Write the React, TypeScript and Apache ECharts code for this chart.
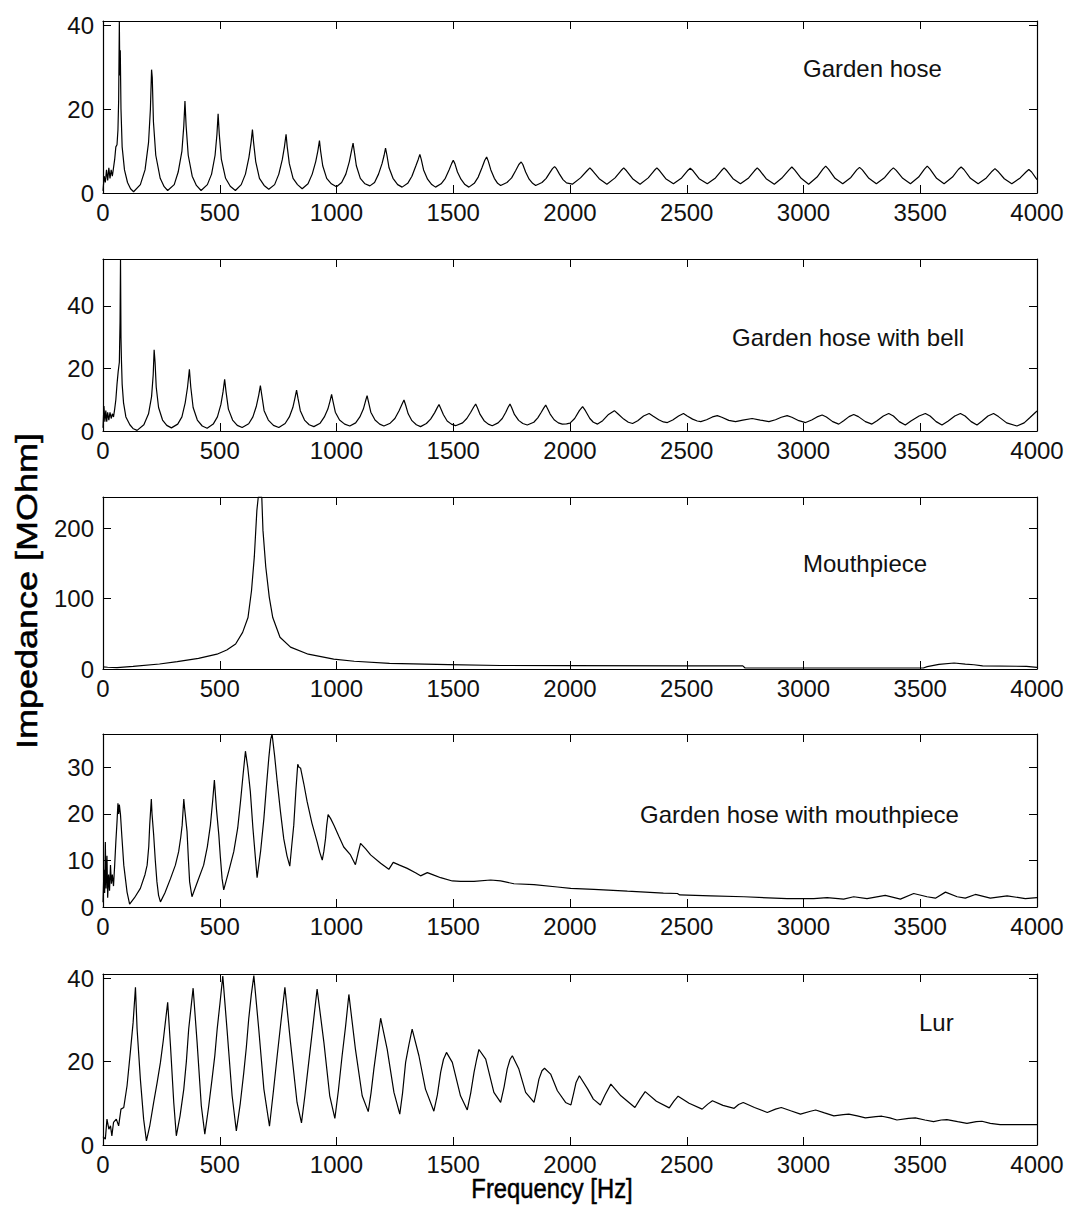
import React, { useEffect, useRef } from "react";
import * as echarts from "echarts";

// ---- Data (frequency in Hz, impedance in MOhm) ----
const panelTitles = [
  "Garden hose",
  "Garden hose with bell",
  "Mouthpiece",
  "Garden hose with mouthpiece",
  "Lur",
];
const yMaxes = [41, 55, 244, 37.2, 41];
const yIntervals = [20, 20, 100, 10, 20];
const freqMin = 0;
const freqMax = 4000;
const freqInterval = 500;

const gardenHose: number[][] = [
  [0, 0.5], [5, 4], [10, 2.5], [15, 5.5], [20, 3], [25, 6], [30, 3.5], [35, 5.5], [40, 4], [45, 6], [50, 8], [55, 11], [60, 11.5], [64, 15], [67, 22], [70, 41], [72, 28], [74, 34], [77, 20], [82, 11], [92, 5.5], [105, 2.5], [118, 1], [131, 0.3],
  [160, 2], [180, 5.5], [195, 12], [203, 20], [208, 29.4], [211, 27.5], [216, 17], [226, 9], [245, 3.5], [262, 1.5], [277, 0.6],
  [305, 2], [322, 5], [338, 10], [346, 16], [351, 21.9], [356, 16], [365, 9], [382, 4], [400, 1.8], [420, 0.6],
  [447, 2], [465, 4.5], [480, 9], [488, 14], [493, 18.9], [498, 14], [507, 8], [525, 3.5], [545, 1.6], [567, 0.6],
  [592, 2], [610, 4.5], [625, 8.5], [634, 12], [640, 15.1], [645, 12], [654, 7.5], [670, 3.5], [690, 1.8], [710, 0.9],
  [735, 2], [753, 4.5], [768, 8], [777, 11], [784, 14], [789, 11], [798, 7], [814, 3.5], [833, 2], [853, 1],
  [878, 2.2], [896, 4.5], [911, 7.5], [920, 10], [927, 12.5], [932, 10], [941, 6.5], [958, 3.5], [978, 2.2], [1000, 1.5],
  [1022, 2.5], [1040, 4.5], [1055, 7.5], [1064, 10], [1071, 11.9], [1076, 10], [1085, 6.5], [1102, 3.5], [1122, 2.2], [1143, 1.7],
  [1163, 2.5], [1180, 4.5], [1195, 7], [1204, 9], [1210, 10.7], [1216, 9], [1225, 6], [1242, 3.5], [1262, 2], [1281, 1.4],
  [1305, 2.3], [1323, 4], [1340, 6.5], [1350, 8], [1357, 9.2], [1363, 8], [1373, 5.5], [1390, 3.3], [1408, 2], [1424, 1.4],
  [1448, 2.2], [1466, 3.5], [1482, 5.5], [1493, 7], [1500, 7.8], [1507, 7], [1518, 5], [1533, 3.3], [1550, 2], [1567, 1.4],
  [1590, 2.3], [1607, 3.8], [1623, 6], [1635, 7.8], [1643, 8.6], [1650, 7.6], [1661, 5.5], [1676, 3.5], [1690, 2.3], [1703, 1.8],
  [1730, 2.5], [1750, 3.6], [1767, 5.3], [1781, 6.8], [1791, 7.4], [1798, 6.8], [1810, 5], [1825, 3.3], [1840, 2.3], [1853, 1.8],
  [1880, 2.5], [1898, 3.5], [1913, 4.8], [1925, 5.8], [1934, 6.3], [1942, 5.8], [1955, 4.5], [1970, 3.2], [1985, 2.4], [2010, 2.1],
  [2045, 3.6], [2073, 5.3], [2085, 6], [2097, 5.3], [2125, 3.4], [2158, 2.1],
  [2193, 3.6], [2218, 5.3], [2230, 6], [2242, 5.3], [2268, 3.4], [2300, 2.1],
  [2335, 3.6], [2360, 5.3], [2372, 6], [2384, 5.3], [2410, 3.4], [2443, 2.2],
  [2478, 3.6], [2503, 5.3], [2515, 5.9], [2527, 5.3], [2553, 3.4], [2588, 2.2],
  [2623, 3.6], [2648, 5.3], [2660, 6], [2672, 5.3], [2698, 3.4], [2730, 2.2],
  [2765, 3.6], [2790, 5.3], [2802, 6], [2814, 5.3], [2840, 3.4], [2875, 2.1],
  [2910, 3.7], [2938, 5.5], [2950, 6.2], [2962, 5.5], [2990, 3.5], [3022, 2.1],
  [3058, 3.8], [3083, 5.7], [3095, 6.4], [3107, 5.7], [3135, 3.5], [3168, 2.2],
  [3203, 3.7], [3228, 5.5], [3240, 6.1], [3252, 5.5], [3280, 3.5], [3312, 2.2],
  [3348, 3.7], [3373, 5.4], [3385, 6], [3397, 5.4], [3425, 3.5], [3458, 2.2],
  [3493, 3.8], [3518, 5.7], [3530, 6.4], [3542, 5.7], [3570, 3.5], [3602, 2.2],
  [3638, 3.8], [3663, 5.6], [3675, 6.2], [3687, 5.6], [3715, 3.5], [3748, 2.2],
  [3783, 3.6], [3808, 5.2], [3820, 5.8], [3832, 5.2], [3860, 3.4], [3892, 2.2],
  [3928, 3.6], [3953, 5.0], [3965, 5.6], [3977, 5.0], [4000, 3.2],
];

const gardenHoseBell: number[][] = [
  [0, 1], [4, 8], [8, 3], [12, 6.5], [16, 3], [20, 6], [25, 3.5], [30, 6], [35, 4], [40, 5.5], [45, 4.5], [50, 7], [55, 10], [60, 15], [65, 19], [70, 22], [73, 35], [75, 55], [77, 30], [79, 22.7], [82, 15], [88, 9], [98, 4.5], [115, 2], [130, 0.7], [146, 0.2],
  [175, 2], [195, 5.5], [208, 11], [215, 18], [219, 26], [223, 22], [228, 14], [238, 7.5], [255, 3.5], [273, 1.8], [293, 1],
  [320, 2.2], [338, 4.5], [352, 9], [362, 14], [370, 19.7], [376, 14], [386, 7.5], [404, 3.5], [425, 1.6], [446, 0.9],
  [472, 2.2], [490, 4.5], [505, 8.5], [514, 12.5], [521, 16.5], [527, 12.5], [537, 7], [555, 3.5], [575, 1.8], [596, 1.1],
  [624, 2.3], [642, 4.5], [657, 8], [667, 11.5], [674, 14.5], [680, 11.5], [690, 6.5], [708, 3.5], [730, 1.8], [753, 1.1],
  [780, 2.4], [798, 4.5], [813, 7.5], [822, 10.5], [829, 13.1], [835, 10.5], [845, 6.5], [863, 3.5], [883, 2], [903, 1.4],
  [930, 2.5], [948, 4.5], [963, 7], [972, 9.5], [979, 11.7], [985, 9.5], [995, 6], [1013, 3.5], [1035, 2.2], [1057, 1.6],
  [1082, 2.6], [1100, 4.5], [1115, 7], [1124, 9.5], [1131, 11.3], [1137, 9.3], [1147, 6], [1165, 3.5], [1185, 2.2], [1203, 1.6],
  [1230, 2.5], [1250, 4], [1268, 6.5], [1280, 8.5], [1289, 9.9], [1296, 8.3], [1307, 5.5], [1323, 3.3], [1342, 2], [1360, 1.4],
  [1385, 2.4], [1403, 3.8], [1420, 5.8], [1431, 7.4], [1439, 8.5], [1446, 7.3], [1458, 5.2], [1474, 3.2], [1492, 2.2], [1510, 1.7],
  [1540, 2.6], [1558, 4], [1575, 6], [1587, 7.6], [1596, 8.6], [1603, 7.5], [1615, 5.3], [1632, 3.3], [1650, 2.2], [1667, 1.7],
  [1692, 2.6], [1710, 4], [1725, 6], [1735, 7.6], [1743, 8.6], [1750, 7.5], [1762, 5.3], [1780, 3.4], [1798, 2.4], [1817, 1.9],
  [1845, 2.8], [1862, 4.2], [1877, 6], [1888, 7.4], [1896, 8.3], [1903, 7.3], [1915, 5.4], [1932, 3.6], [1950, 2.6], [1967, 2.2],
  [1985, 2.3], [2000, 2.5], [2020, 4], [2040, 6.5], [2054, 7.8], [2066, 6.5], [2085, 4], [2100, 2.8], [2118, 2.2],
  [2140, 3.3], [2165, 5.3], [2190, 6.5], [2205, 5.5], [2230, 3.8], [2250, 2.8], [2268, 2.4],
  [2290, 3.3], [2315, 4.8], [2339, 5.6], [2355, 4.8], [2380, 3.6], [2400, 2.9], [2417, 2.7],
  [2440, 3.5], [2465, 4.8], [2486, 5.6], [2502, 4.8], [2525, 3.8], [2545, 3.2], [2560, 3],
  [2585, 3.6], [2610, 4.5], [2631, 4.9], [2650, 4.4], [2680, 3.4], [2709, 3],
  [2740, 3.5], [2780, 4], [2815, 3.5], [2852, 3],
  [2880, 3.6], [2905, 4.4], [2930, 4.9], [2950, 4.4], [2980, 3.3], [3009, 2.7],
  [3035, 3.5], [3058, 4.5], [3080, 5.1], [3098, 4.5], [3125, 3], [3151, 2.2],
  [3172, 3.3], [3195, 4.6], [3215, 5.3], [3235, 4.6], [3265, 3], [3293, 2.2],
  [3315, 3.3], [3342, 4.8], [3365, 5.6], [3385, 4.8], [3410, 3], [3436, 1.9],
  [3460, 3.2], [3495, 4.8], [3522, 5.6], [3542, 4.8], [3568, 3], [3593, 1.9],
  [3620, 3.2], [3648, 4.8], [3672, 5.6], [3692, 4.8], [3718, 3], [3743, 1.9],
  [3765, 3.2], [3790, 4.8], [3814, 5.6], [3835, 4.6], [3870, 2.6], [3914, 1.6],
  [3945, 2.6], [3970, 4.3], [4000, 6.4],
];

const mouthpiece: number[][] = [
  [0, 3], [20, 2.5], [60, 2], [129, 3.8], [242, 7.1], [318, 10.4], [409, 15], [488, 21], [530, 27], [568, 35.5], [598, 52], [621, 73], [636, 111], [648, 159], [659, 225], [665, 244],
  [680, 244], [685, 197], [697, 145], [712, 102], [727, 73], [758, 45], [803, 31], [879, 21], [988, 14], [1076, 11], [1227, 8], [1480, 6.2], [1700, 5], [2000, 4.7], [2500, 4.5], [2740, 4.4],
  [2750, 1.4], [3100, 1.4], [3513, 1.4], [3530, 3.3], [3580, 6.5], [3645, 8.5], [3693, 7], [3730, 6], [3767, 4.3], [3955, 3.8], [4000, 2.4],
];

const hoseMouthpiece: number[][] = [
  [0, 1], [4, 8], [7, 3], [10, 14], [13, 4], [17, 11], [20, 2], [24, 7], [28, 3.5], [32, 9], [36, 5], [40, 7], [45, 4.5], [50, 9], [55, 14], [60, 18.3], [64, 22.3], [67, 20], [70, 22], [75, 19.8], [81, 15], [89, 9], [103, 3.2], [114, 0.6],
  [135, 2], [160, 4], [180, 7], [189, 9], [196, 13], [200, 17.6], [207, 23.2], [210, 20], [217, 15.5], [224, 10], [231, 5.4], [238, 2.5], [246, 1.1],
  [265, 3], [289, 6.1], [310, 9], [324, 11.9], [333, 15], [339, 17.6], [346, 23.2], [350, 21], [360, 16.2], [366, 10], [371, 5.4], [381, 2.2],
  [405, 5.5], [431, 9], [447, 13], [460, 17.6], [470, 23], [477, 27.3], [486, 21], [496, 15.5], [503, 10.5], [510, 6.1], [517, 3.7],
  [540, 8], [560, 11.9], [577, 17], [589, 22.7], [600, 28.5], [610, 33.5], [620, 30], [631, 24.8], [642, 17], [653, 10.4], [660, 6.3],
  [675, 12], [689, 19], [700, 26], [710, 32], [718, 36], [724, 37.2], [735, 32.5], [746, 27], [760, 20.5], [774, 14.7], [788, 11], [800, 8.8],
  [808, 13], [817, 17.6], [826, 25], [834, 30.7], [840, 30], [846, 29.9], [860, 26.5], [874, 22.7], [895, 18], [917, 14], [928, 11.8], [939, 10.1],
  [946, 12], [953, 14.7], [958, 17.5], [964, 19.9], [975, 19], [989, 17.6], [1010, 15.2], [1031, 12.9], [1060, 11.2], [1081, 9.1],
  [1092, 11.5], [1103, 13.7], [1125, 12.5], [1146, 11.2], [1189, 9.4], [1224, 8.1],
  [1243, 9.6], [1270, 9], [1303, 8.3], [1340, 7.3], [1360, 6.7],
  [1389, 7.4], [1420, 6.8], [1446, 6.3], [1496, 5.6], [1531, 5.5], [1589, 5.5], [1660, 5.8], [1703, 5.6], [1760, 5], [1846, 4.8], [1946, 4.3], [2003, 4],
  [2102, 3.8], [2246, 3.4], [2400, 3], [2460, 2.9], [2470, 2.6], [2603, 2.4], [2745, 2.2], [2930, 1.8], [3044, 1.8], [3101, 2], [3172, 1.7], [3215, 2.2], [3272, 1.8], [3350, 2.5], [3415, 1.7], [3472, 2.9], [3529, 2.2], [3565, 1.9], [3608, 3.2], [3658, 2.2], [3693, 1.9], [3736, 2.7], [3800, 1.9], [3872, 2.4], [3950, 1.8], [4000, 2],
];

const lur: number[][] = [
  [0, 2], [10, 1.4], [17, 6.2], [25, 3.8], [32, 4.6], [38, 2.2], [45, 5.4], [57, 6.2], [67, 4.6], [77, 8.6], [89, 9], [103, 14.2], [117, 22.2], [129, 29.4], [139, 37.8], [146, 27.8], [160, 15.8], [174, 6.2], [186, 1],
  [200, 4.5], [217, 10.2], [232, 15], [246, 19.8], [258, 25], [267, 29.4], [277, 34.2], [289, 23.8], [303, 10.2], [314, 2.2],
  [330, 7], [346, 13.4], [357, 20], [367, 27.8], [377, 33], [386, 37.6], [403, 24.6], [421, 9.4], [436, 2.6],
  [452, 9], [467, 15.8], [479, 21.5], [489, 27.8], [501, 34], [513, 40.5], [531, 27.8], [553, 11.8], [571, 3.4],
  [588, 10], [603, 17.4], [614, 23.5], [624, 30.2], [635, 36], [646, 40.6], [667, 27.8], [689, 13.4], [713, 4.5],
  [730, 13], [746, 21.4], [762, 29.5], [779, 37.8], [803, 24.6], [831, 10.2], [850, 5.3],
  [865, 12], [881, 19.8], [899, 28.5], [917, 37.4], [946, 24.6], [971, 11.8], [993, 6.4],
  [1008, 13], [1024, 21.4], [1039, 28.5], [1053, 36.1], [1081, 23], [1110, 11.8], [1136, 8],
  [1148, 12.5], [1160, 18.2], [1175, 24.5], [1189, 30.4], [1217, 23], [1246, 12.6], [1271, 7.4],
  [1283, 12.5], [1296, 19.8], [1310, 24], [1324, 27.8], [1353, 21.4], [1381, 13.4], [1417, 8.1],
  [1432, 12], [1446, 17.4], [1458, 20.5], [1471, 22.2], [1496, 19.8], [1531, 11.8], [1560, 8.4],
  [1575, 12.5], [1589, 17.4], [1600, 20.5], [1610, 22.9], [1639, 20.6], [1674, 12.6], [1703, 10.2],
  [1718, 14], [1731, 18.2], [1743, 20.5], [1753, 21.4], [1781, 18.2], [1810, 12.6], [1846, 10.2],
  [1857, 13], [1867, 15.8], [1880, 17.8], [1891, 18.4], [1917, 17], [1946, 13], [1981, 10.2], [2004, 9.6],
  [2016, 12.5], [2026, 15], [2040, 16.6], [2076, 13.4], [2100, 11], [2130, 9.6],
  [2150, 12], [2175, 14.6], [2218, 11.8], [2278, 9],
  [2300, 11], [2322, 12.8], [2370, 10.5], [2425, 8.9],
  [2445, 10.5], [2463, 11.7], [2510, 10], [2566, 8.6],
  [2590, 9.8], [2610, 10.6], [2655, 9.5], [2703, 8.8],
  [2722, 9.7], [2742, 10.2], [2790, 9], [2845, 7.8],
  [2880, 8.6], [2905, 9], [2945, 8.2], [2987, 7.4],
  [3030, 8.1], [3052, 8.4], [3090, 7.7], [3130, 7],
  [3170, 7.3], [3194, 7.4], [3230, 7], [3265, 6.5],
  [3310, 6.8], [3336, 6.9], [3370, 6.5], [3400, 6],
  [3450, 6.4], [3479, 6.5], [3520, 6], [3557, 5.6],
  [3590, 6], [3614, 6.1], [3660, 5.6], [3700, 5.2],
  [3740, 5.6], [3764, 5.7], [3800, 5.2], [3842, 4.9], [3920, 4.9], [4000, 4.9],
];

const panelData = [gardenHose, gardenHoseBell, mouthpiece, hoseMouthpiece, lur];

const yAxisTitle = "Impedance [MOhm]";
const xAxisTitle = "Frequency [Hz]";

// ---- Layout (pixels) ----
const W = 1067;
const H = 1217;
const gridLeft = 103;
const gridWidth = 934;
const gridTops = [21, 259, 497, 734, 974];
const gridHeights = [172, 172, 172, 173, 171];
const titlePos = [
  [803, 68],
  [732, 337],
  [803, 563],
  [640, 814],
  [919, 1022],
];
const FONT = '"Liberation Sans", Arial, Helvetica, sans-serif';

export default function App() {
  const ref = useRef<HTMLDivElement>(null);

  useEffect(() => {
    if (!ref.current) return;
    const chart = echarts.init(ref.current, null, { renderer: "svg" });

    const grids: any[] = [];
    const xAxes: any[] = [];
    const yAxes: any[] = [];
    const series: any[] = [];
    const graphics: any[] = [];

    const tick = { show: true, inside: true, length: 8, lineStyle: { color: "#000", width: 1 } };
    const line = { show: true, onZero: false, lineStyle: { color: "#000", width: 1.2 } };
    const label = {
      fontSize: 24,
      fontFamily: FONT,
      color: "#111",
      formatter: (v: number) => String(v),
    };

    panelTitles.forEach((title, i) => {
      grids.push({
        left: gridLeft,
        width: gridWidth,
        top: gridTops[i],
        height: gridHeights[i],
        containLabel: false,
        outerBoundsMode: "none",
      });
      xAxes.push({
        type: "value",
        gridIndex: i,
        position: "bottom",
        min: freqMin,
        max: freqMax,
        interval: freqInterval,
        axisLine: line,
        axisTick: tick,
        splitLine: { show: false },
        axisLabel: { ...label, margin: 7 },
      });
      xAxes.push({
        type: "value",
        gridIndex: i,
        position: "top",
        min: freqMin,
        max: freqMax,
        interval: freqInterval,
        axisLine: line,
        axisTick: tick,
        splitLine: { show: false },
        axisLabel: { show: false },
      });
      yAxes.push({
        type: "value",
        gridIndex: i,
        position: "left",
        min: 0,
        max: yMaxes[i],
        interval: yIntervals[i],
        axisLine: line,
        axisTick: tick,
        splitLine: { show: false },
        axisLabel: { ...label, margin: 9, showMaxLabel: false },
      });
      yAxes.push({
        type: "value",
        gridIndex: i,
        position: "right",
        min: 0,
        max: yMaxes[i],
        interval: yIntervals[i],
        axisLine: line,
        axisTick: tick,
        splitLine: { show: false },
        axisLabel: { show: false },
      });
      series.push({
        type: "line",
        name: title,
        xAxisIndex: 2 * i,
        yAxisIndex: 2 * i,
        data: panelData[i],
        showSymbol: false,
        symbol: "none",
        silent: true,
        clip: true,
        lineStyle: { color: "#000", width: 1.2 },
      });
      graphics.push({
        type: "text",
        x: titlePos[i][0],
        y: titlePos[i][1],
        silent: true,
        style: {
          text: title,
          font: `24px ${FONT}`,
          fill: "#111",
          textAlign: "left",
          textVerticalAlign: "middle",
          align: "left",
          verticalAlign: "middle",
        },
      });
    });

    graphics.push({
      type: "text",
      x: 27,
      y: 591,
      rotation: Math.PI / 2,
      scaleX: 1.2,
      scaleY: 1,
      silent: true,
      style: {
        text: yAxisTitle,
        font: `30px ${FONT}`,
        fill: "#000",
        stroke: "#000",
        lineWidth: 0.5,
        textAlign: "center",
        textVerticalAlign: "middle",
        align: "center",
        verticalAlign: "middle",
      },
    });
    graphics.push({
      type: "text",
      x: 552,
      y: 1188,
      scaleX: 0.85,
      scaleY: 1,
      silent: true,
      style: {
        text: xAxisTitle,
        font: `28px ${FONT}`,
        fill: "#000",
        stroke: "#000",
        lineWidth: 0.5,
        textAlign: "center",
        textVerticalAlign: "middle",
        align: "center",
        verticalAlign: "middle",
      },
    });

    chart.setOption({
      animation: false,
      backgroundColor: "#fff",
      grid: grids,
      xAxis: xAxes,
      yAxis: yAxes,
      series,
      graphic: graphics,
    });

    return () => {
      chart.dispose();
    };
  }, []);

  return (
    <div
      ref={ref}
      style={{ position: "absolute", left: 0, top: 0, width: W, height: H, background: "#fff" }}
    />
  );
}
